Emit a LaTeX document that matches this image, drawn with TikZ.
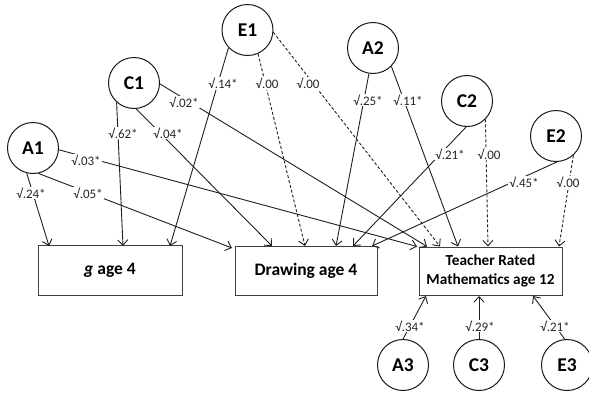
\documentclass[tikz,border=0pt]{standalone}
\usepackage{fontspec}
\setmainfont{Carlito}
\usetikzlibrary{arrows.meta}
\begin{document}
\begin{tikzpicture}[x=1pt,y=-1pt,
  latent/.style={circle,draw=black!90,line width=1pt,minimum size=51pt,inner sep=0pt,
    font=\fontsize{19.5}{19.5}\selectfont\bfseries},
  obs/.style={rectangle,draw=black!75,line width=1pt,align=center,inner sep=0pt,
    font=\fontsize{17.5}{20}\selectfont\bfseries},
  lab/.style={fill=white,inner sep=1pt,font=\fontsize{13}{14}\selectfont,text=black!85},
  conn/.style={line width=0.9pt,draw=black!88,-{Straight Barb[length=5.5pt,width=10pt]}},
  dconn/.style={conn,dash pattern=on 3pt off 2pt}]
\useasboundingbox (0,0) rectangle (589,394);

% latent factors
\node[latent] (E1) at (247.5,30) {E1};
\node[latent] (C1) at (134,83) {C1};
\node[latent] (A1) at (33,148) {A1};
\node[latent] (A2) at (373,48) {A2};
\node[latent] (C2) at (467,101) {C2};
\node[latent] (E2) at (556,136) {E2};
\node[latent] (A3) at (403,365) {A3};
\node[latent] (C3) at (479,365) {C3};
\node[latent] (E3) at (567,365) {E3};

% observed
\node[obs,minimum width=144pt,minimum height=50pt] (g) at (110,270) {\textit{g} age 4};
\node[obs,minimum width=142pt,minimum height=49pt] (dr) at (306,270.5) {Drawing age 4};
\node[obs,minimum width=143pt,minimum height=48pt,font=\fontsize{15.3}{18.4}\selectfont\bfseries] (tm) at (490.5,271) {Teacher Rated\\Mathematics age 12};

% arrow ends
\coordinate (gA) at (49,246);
\coordinate (gC) at (123,246);
\coordinate (gE) at (170,246);
\coordinate (dA1) at (232,248);
\coordinate (dC1) at (272,246);
\coordinate (dE1) at (305,246);
\coordinate (dA2) at (336,246);
\coordinate (dC2) at (353,246);
\coordinate (dE2) at (372,246);
\coordinate (tA1) at (417,246.5);
\coordinate (tC1) at (427,246.5);
\coordinate (tE1) at (440,246.5);
\coordinate (tA2) at (458,246.5);
\coordinate (tC2) at (488,246.5);
\coordinate (tE2) at (559,246.5);
\coordinate (tA3) at (426,296);
\coordinate (tC3) at (479,296);
\coordinate (tE3) at (533,296);

% connectors
\draw[conn] (A1.256) -- (gA);
\draw[conn] (A1.356) -- (tA1);
\draw[conn] (A1.282) -- (dA1);
\draw[conn] (C1.228) -- (gC);
\draw[conn] (C1.275) -- (dC1);
\draw[conn] (C1.358) -- (tC1);
\draw[conn] (E1.223) -- (gE);
\draw[dconn] (E1.294) -- (dE1);
\draw[dconn] (E1.355) -- (tE1);
\draw[conn] (A2.261) -- (dA2);
\draw[conn] (A2.315) -- (tA2);
\draw[conn] (C2.268) -- (dC2);
\draw[dconn] (C2.315) -- (tC2);
\draw[conn] (E2.272) -- (dE2);
\draw[dconn] (E2.312) -- (tE2);
\draw[conn] (A3.90) -- (tA3);
\draw[conn] (C3.90) -- (tC3);
\draw[conn] (E3.95) -- (tE3);

% path labels
\node[lab] (l1) at (31,193) {√.24*};
\node[lab] (l2) at (86,160) {√.03*};
\node[lab] (l3) at (88,193) {√.05*};
\node[lab] (l4) at (123,133) {√.62*};
\node[lab] (l5) at (168,133) {√.04*};
\node[lab] (l6) at (184,102) {√.02*};
\node[lab] (l7) at (223,83.5) {√.14*};
\node[lab] (l8) at (267,83.5) {√.00};
\node[lab] (l9) at (308,83.5) {√.00};
\node[lab] (l10) at (368,100) {√.25*};
\node[lab] (l11) at (408,100) {√.11*};
\node[lab] (l12) at (450,154) {√.21*};
\node[lab] (l13) at (489,154) {√.00};
\node[lab] (l14) at (524,182) {√.45*};
\node[lab] (l15) at (568,182) {√.00};
\node[lab] (l16) at (410,326) {√.34*};
\node[lab] (l17) at (480,326) {√.29*};
\node[lab] (l18) at (555,326) {√.21*};
\end{tikzpicture}
\end{document}
